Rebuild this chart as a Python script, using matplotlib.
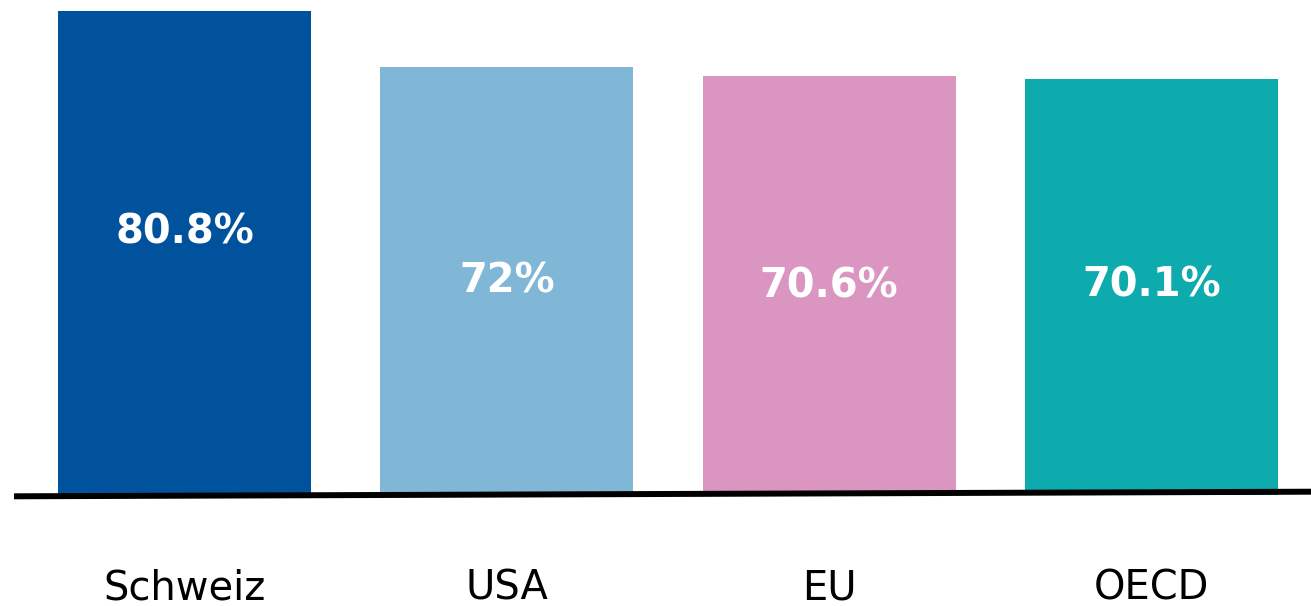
import matplotlib.pyplot as plt
from matplotlib.lines import Line2D
import numpy as np

categories = ["Schweiz", "USA", "EU", "OECD"]
values = [80.8, 72, 70.6, 70.1]

colors = ["#00529c", "#80b7d7", "#da95c1", "#0eabae"]
# nudge for the value labels (points, upwards)
label_shift = [15, 0, -1, 1]

fig = plt.figure(figsize=(13.11, 6.06), dpi=100)
ax = fig.add_axes([0, 1 - 495 / 606, 1, 495 / 606])

x = np.arange(len(categories))
ax.bar(x, values, width=0.785, color=colors)

ax.set_xlim(-0.572, 3.495)
ax.set_ylim(4.8, 82.53)

# value labels in the middle of the visible part of each bar
y0 = ax.get_ylim()[0]
for xi, v, dy in zip(x, values, label_shift):
    ax.annotate(f"{v:g}%", (xi, (v + y0) / 2), xytext=(0, dy),
                textcoords="offset points", ha="center", va="center",
                color="white", fontsize=28.8, fontweight="bold")

ax.set_xticks(x)
ax.set_xticklabels(categories, fontsize=28.8)
ax.tick_params(axis="x", length=0, pad=53)
ax.set_yticks([])
for side in ax.spines.values():
    side.set_visible(False)

# baseline, slightly tilted
fig.add_artist(Line2D([14 / 1311, 1.0], [1 - 496.3 / 606, 1 - 491.7 / 606],
                      transform=fig.transFigure, color="black", linewidth=4.3,
                      solid_capstyle="butt"))

fig.savefig("out.png", dpi=100)
